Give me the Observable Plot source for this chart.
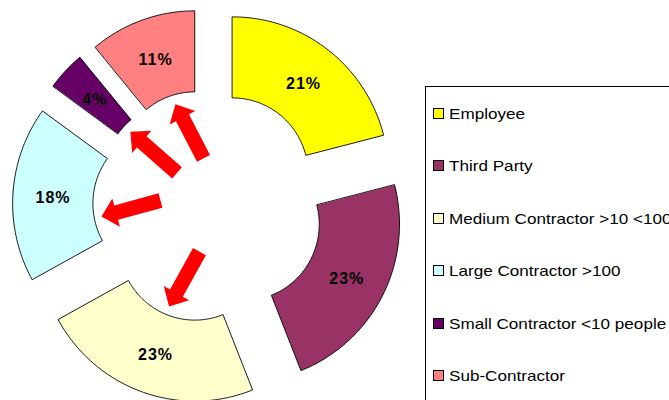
<!DOCTYPE html>
<html><head><meta charset="utf-8">
<script src="https://cdn.jsdelivr.net/npm/d3@7"></script>
<script src="https://cdn.jsdelivr.net/npm/@observablehq/plot@0.6"></script>
<style>
html,body{margin:0;padding:0;background:#fff;}
#wrap{position:relative;width:669px;height:400px;overflow:hidden;font-family:Arial,"Liberation Sans",sans-serif;}
#chart{position:absolute;left:0;top:0;}
#legend{position:absolute;left:425px;top:86px;width:330px;height:400px;border:1px solid #000;box-sizing:border-box;background:#fff;}
.item{position:absolute;left:0;height:20px;display:flex;align-items:center;white-space:nowrap;font-size:15px;color:#000;}
.item span{display:inline-block;transform:scaleX(1.14);transform-origin:0 50%;}
.sw{width:9px;height:9px;border:1px solid #000;margin-left:7px;margin-right:5px;flex:none;}
.pct text{letter-spacing:1px;}
</style></head>
<body><div id="wrap"><div id="chart"></div><div id="legend"></div></div>
<script>
// ---- data ----
const categories = ["Employee","Third Party","Medium Contractor >10 <100","Large Contractor >100","Small Contractor <10 people","Sub-Contractor"];
const shares = [21, 23, 23, 18, 4, 11];
const colors = ["#FFFF00","#993366","#FFFFCC","#CCFFFF","#660066","#FF8080"];
// annotation arrows (tail -> tip), in units of the outer radius, centre of doughnut at 0,0
const arrowTargets = ["Sub-Contractor","Small Contractor <10 people","Large Contractor >100","Medium Contractor >10 <100"];
const arrowTailX = [-0.030, -0.200, -0.306, -0.056];
const arrowTailY = [ 0.302,  0.210,  0.035, -0.289];
const arrowTipX  = [-0.210, -0.499, -0.684, -0.251];
const arrowTipY  = [ 0.646,  0.471, -0.067, -0.638];

// ---- geometry ----
const inner = 0.4855, explode = 0.254;
const pie = d3.pie().sort(null).value(d => d)(shares);
const slicePts = [], labelPts = [];
pie.forEach((p, i) => {
  const name = categories[i];
  const mid = (p.startAngle + p.endAngle) / 2;
  const ox = explode * Math.sin(mid), oy = explode * Math.cos(mid);
  const n = Math.max(8, Math.ceil((p.endAngle - p.startAngle) / 0.02));
  for (let k = 0; k <= n; k++) {
    const a = p.startAngle + (p.endAngle - p.startAngle) * k / n;
    slicePts.push({name, x: ox + Math.sin(a), y: oy + Math.cos(a)});
  }
  for (let k = n; k >= 0; k--) {
    const a = p.startAngle + (p.endAngle - p.startAngle) * k / n;
    slicePts.push({name, x: ox + inner * Math.sin(a), y: oy + inner * Math.cos(a)});
  }
  const rm = (1 + inner) / 2;
  labelPts.push({name, text: shares[i] + "%", x: ox + rm * Math.sin(mid), y: oy + rm * Math.cos(mid)});
});

const arrowPts = [];
const shaftHalf = 0.047, headHalf = 0.093, headLen = 0.097;
arrowTargets.forEach((t, i) => {
  const tx = arrowTailX[i], ty = arrowTailY[i], px = arrowTipX[i], py = arrowTipY[i];
  const L = Math.hypot(px - tx, py - ty);
  const ux = (px - tx) / L, uy = (py - ty) / L, nx = -uy, ny = ux;
  const bx = px - headLen * ux, by = py - headLen * uy;
  const pts = [
    [tx + shaftHalf * nx, ty + shaftHalf * ny],
    [bx + shaftHalf * nx, by + shaftHalf * ny],
    [bx + headHalf * nx, by + headHalf * ny],
    [px, py],
    [bx - headHalf * nx, by - headHalf * ny],
    [bx - shaftHalf * nx, by - shaftHalf * ny],
    [tx - shaftHalf * nx, ty - shaftHalf * ny]
  ];
  pts.forEach(([x, y]) => arrowPts.push({id: t, x, y}));
});

const W = 669, H = 400, cxPx = 207.7, cyPx = 205.5, unitX = 156, unitY = 157.5;
const chart = Plot.plot({
  width: W, height: H, margin: 0,
  x: {domain: [-cxPx / unitX, (W - cxPx) / unitX], axis: null},
  y: {domain: [-(H - cyPx) / unitY, cyPx / unitY], axis: null},
  color: {domain: categories, range: colors},
  style: {background: "transparent", fontFamily: "Arial, 'Liberation Sans', sans-serif"},
  marks: [
    Plot.line(slicePts, {x: "x", y: "y", z: "name", fill: "name", stroke: "#000", strokeWidth: 0.9, curve: "linear-closed"}),
    Plot.line(arrowPts, {x: "x", y: "y", z: "id", fill: "#FF0000", stroke: "none", curve: "linear-closed"}),
    Plot.text(labelPts, {x: "x", y: "y", text: "text", dy: 1.5, fontWeight: "bold", fontSize: 16, fill: "#000", className: "pct"})
  ]
});
document.getElementById("chart").appendChild(chart);

// legend built from the plot's colour scale
const color = chart.scale("color");
const legend = document.getElementById("legend");
categories.forEach((c, i) => {
  const item = document.createElement("div");
  item.className = "item";
  item.style.top = (113.3 + i * 52.5 - 10 - 87) + "px";
  const sw = document.createElement("div");
  sw.className = "sw";
  sw.style.background = color.apply(c);
  const label = document.createElement("span");
  label.textContent = c;
  item.appendChild(sw); item.appendChild(label);
  legend.appendChild(item);
});
</script>
</body></html>
